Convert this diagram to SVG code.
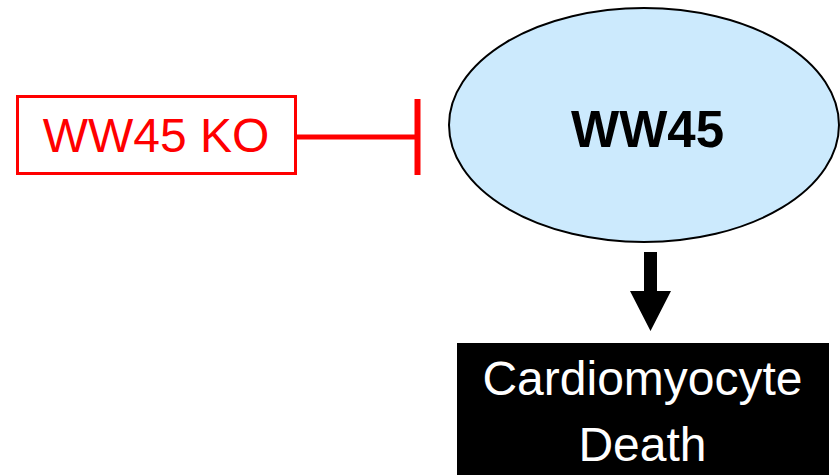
<svg xmlns="http://www.w3.org/2000/svg" width="840" height="475" viewBox="0 0 840 475">
  <style>
    .lbl { font-family: "Liberation Sans", Arial, sans-serif; text-anchor: middle; }
  </style>
  <rect width="840" height="475" fill="#ffffff"/>

  <g id="ww45">
    <ellipse cx="644" cy="125" rx="195" ry="117" fill="#cceafd" stroke="#000000" stroke-width="2"/>
    <text class="lbl" x="647.5" y="147" font-size="51" font-weight="bold" fill="#000000">WW45</text>
  </g>

  <g id="ww45-ko">
    <rect x="17.5" y="96.5" width="278" height="77" fill="#ffffff" stroke="#ff0000" stroke-width="3"/>
    <text class="lbl" x="156" y="152" font-size="48" fill="#ff0000">WW45 KO</text>
  </g>

  <g id="cardiomyocyte-death">
    <rect x="457" y="343" width="372" height="140" fill="#000000"/>
    <text class="lbl" x="642.5" y="395" font-size="48" fill="#ffffff">Cardiomyocyte</text>
    <text class="lbl" x="642.5" y="461" font-size="48" fill="#ffffff">Death</text>
  </g>

  <g id="connectors">
    <!-- inhibition: KO blocks WW45 -->
    <line x1="297" y1="137" x2="417" y2="137" stroke="#ff0000" stroke-width="5"/>
    <line x1="417.5" y1="99" x2="417.5" y2="175" stroke="#ff0000" stroke-width="6"/>
    <!-- activation: WW45 leads to cell death -->
    <polygon points="644,252 657,252 657,291 671,291 650.5,331 630,291 644,291" fill="#000000"/>
  </g>
</svg>
